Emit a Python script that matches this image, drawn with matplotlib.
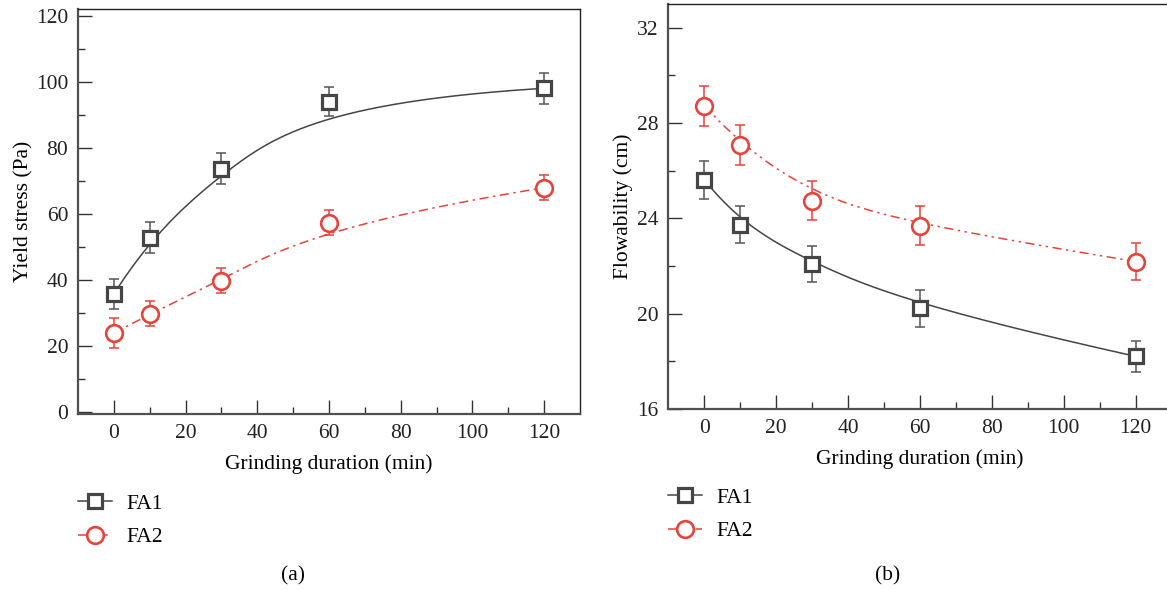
import numpy as np
import matplotlib
matplotlib.use("Agg")
import matplotlib.pyplot as plt
from matplotlib.lines import Line2D

plt.rcParams['font.family'] = ['Liberation Serif', 'DejaVu Serif']
FS = 15.5
plt.rcParams['font.size'] = FS

# grinding duration (min)
t = [0, 10, 30, 60, 120]

# (a) yield stress (Pa)
ys_fa1 = [35.7, 52.8, 73.7, 94.0, 98.0]
ys_fa1_err = [4.5, 4.6, 4.6, 4.5, 4.7]
ys_fa2 = [23.9, 29.7, 39.7, 57.3, 67.9]
ys_fa2_err = [4.6, 3.8, 3.8, 3.8, 3.8]

# (b) flowability (cm)
fl_fa1 = [25.62, 23.73, 22.08, 20.23, 18.21]
fl_fa1_err = [0.8, 0.77, 0.77, 0.77, 0.65]
fl_fa2 = [28.73, 27.09, 24.75, 23.69, 22.19]
fl_fa2_err = [0.84, 0.84, 0.83, 0.81, 0.77]

GRAY = '#454545'
RED = '#e8423b'


def bspline(xs, ys, k=3, n=300):
    # clamped B-spline, data points used as control points (Origin style)
    P = np.column_stack([xs, ys]).astype(float)
    m = len(P)
    inner = np.linspace(0, 1, m - k + 1)[1:-1]
    knots = np.concatenate([np.zeros(k + 1), inner, np.ones(k + 1)])
    u = np.linspace(0, 1, n)
    u[-1] = 1 - 1e-9

    def N(i, p, u):
        if p == 0:
            return ((knots[i] <= u) & (u < knots[i + 1])).astype(float)
        a = 0.0
        b = 0.0
        if knots[i + p] != knots[i]:
            a = (u - knots[i]) / (knots[i + p] - knots[i]) * N(i, p - 1, u)
        if knots[i + p + 1] != knots[i + 1]:
            b = (knots[i + p + 1] - u) / (knots[i + p + 1] - knots[i + 1]) * N(i + 1, p - 1, u)
        return a + b

    B = np.array([N(i, k, u) for i in range(m)])
    C = B.T @ P
    return C[:, 0], C[:, 1]


def style_axes(ax):
    for s in ['left', 'bottom']:
        ax.spines[s].set_linewidth(1.6)
        ax.spines[s].set_color('#505050')
    for s in ['top', 'right']:
        ax.spines[s].set_linewidth(1.0)
        ax.spines[s].set_color('#222222')
    ax.tick_params(which='both', direction='in', top=False, right=False,
                   color='#333333', width=1.0, labelsize=FS, colors='#222222')
    ax.tick_params(which='major', length=10)
    ax.tick_params(which='minor', length=5)
    ax.tick_params(axis='x', pad=7)
    ax.tick_params(axis='y', pad=7)


SQ = dict(marker='s', ms=10.5, mfc='white', mec=GRAY, mew=2.3)
CI = dict(marker='o', ms=12, mfc='white', mec=RED, mew=1.9)


def draw(ax, y1, e1, y2, e2, dash2):
    cx, cy = bspline(t, y1)
    ax.plot(cx, cy, color=GRAY, lw=1.1, zorder=2)
    cx, cy = bspline(t, y2)
    ax.plot(cx, cy, color=RED, lw=1.1, dashes=dash2, zorder=2)
    ax.errorbar(t, y1, yerr=e1, fmt='none', ecolor='#555555', elinewidth=1.1,
                capsize=3.3, capthick=1.1, zorder=3)
    ax.errorbar(t, y2, yerr=e2, fmt='none', ecolor=RED, elinewidth=1.1,
                capsize=3.3, capthick=1.1, zorder=3)
    ax.plot(t, y1, ls='none', zorder=4, **SQ)
    ax.plot(t, y2, ls='none', zorder=4, **CI)


fig = plt.figure(figsize=(11.67, 5.9), dpi=100)
axa = fig.add_axes([0.0668, 0.2983, 0.4302, 0.6864])
axb = fig.add_axes([0.5728, 0.3068, 0.4311, 0.6864])

dash_a = (6, 3, 1.5, 3)
dash_b = (6, 3, 1.5, 3, 1.5, 3)

draw(axa, ys_fa1, ys_fa1_err, ys_fa2, ys_fa2_err, dash_a)
draw(axb, fl_fa1, fl_fa1_err, fl_fa2, fl_fa2_err, dash_b)

for ax in (axa, axb):
    style_axes(ax)
    ax.set_xlim(-10, 130)
    ax.set_xticks([0, 20, 40, 60, 80, 100, 120])
    ax.set_xticks(np.arange(10, 130, 20), minor=True)
    ax.set_xlabel('Grinding duration (min)', fontsize=FS, labelpad=8)

axa.set_ylim(-0.6, 122)
axa.set_yticks([0, 20, 40, 60, 80, 100, 120])
axa.set_yticks(np.arange(10, 120, 20), minor=True)
axa.set_ylabel('Yield stress (Pa)', fontsize=FS, labelpad=2)

axb.set_ylim(16, 33)
axb.set_yticks([16, 20, 24, 28, 32])
axb.set_yticks([18, 22, 26, 30], minor=True)
axb.set_ylabel('Flowability (cm)', fontsize=FS, labelpad=3)


def legend_handles(dash2):
    h1 = Line2D([], [], color=GRAY, lw=1.1, **SQ)
    h2 = Line2D([], [], color=RED, lw=1.1, dashes=dash2, **CI)
    return [h1, h2]


for hs, x0, yc in [(legend_handles(dash_a), 78, 520.5), (legend_handles(dash_b), 668, 514.5)]:
    fig.legend(hs, ['FA1', 'FA2'], loc='center left',
               bbox_to_anchor=(x0 / 1167, 1 - yc / 590), frameon=False,
               fontsize=FS, handlelength=1.6, handletextpad=0.65,
               labelspacing=0.62, borderpad=0, borderaxespad=0)

fig.text(293 / 1167, 1 - 576 / 590, '(a)', ha='center', va='center', fontsize=FS)
fig.text(888 / 1167, 1 - 576 / 590, '(b)', ha='center', va='center', fontsize=FS)

fig.savefig('out.png', dpi=100)
